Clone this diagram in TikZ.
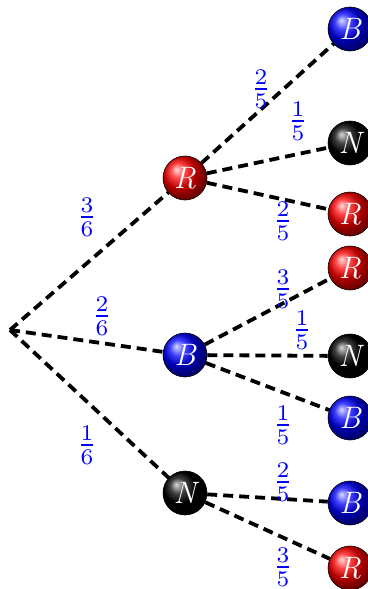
\documentclass[tikz,border=0pt]{standalone}
\usepackage{graphicx}
\usetikzlibrary{shadings}
\newcommand{\pfrac}[2]{\scalebox{3.2}{$\frac{#1}{#2}$}}
\tikzset{
  ballnode/.style={circle, shading=ball, ball color=#1, minimum size=44pt, inner sep=0pt,
    draw=black, line width=0.6pt, text=white, font=\fontsize{31}{31}\selectfont\itshape},
  edgeline/.style={line width=3.8pt, dash pattern=on 10pt off 6pt, black},
  prob/.style={text=blue, inner sep=0pt}
}
\begin{document}
\begin{tikzpicture}[x=1pt,y=-1pt]
\useasboundingbox (0,0) rectangle (367,589);
\coordinate (root) at (10,330);
\node[ballnode=red] (r1) at (185,178) {R};
\node[ballnode=blue] (b1) at (185,355) {B};
\node[ballnode=black] (n1) at (185,493) {N};
\node[ballnode=blue] (l1) at (350,29) {B};
\node[ballnode=black] (l2) at (350,143) {N};
\node[ballnode=red] (l3) at (350,214) {R};
\node[ballnode=red] (l4) at (350,268) {R};
\node[ballnode=black] (l5) at (350,356) {N};
\node[ballnode=blue] (l6) at (350,418) {B};
\node[ballnode=blue] (l7) at (350,503) {B};
\node[ballnode=red] (l8) at (350,568) {R};
\draw[edgeline] (root) -- (r1);
\draw[edgeline] (root) -- (b1);
\draw[edgeline] (root) -- (n1);
\draw[edgeline] (r1) -- (l1);
\draw[edgeline] (r1) -- (l2);
\draw[edgeline] (r1) -- (l3);
\draw[edgeline] (b1) -- (l4);
\draw[edgeline] (b1) -- (l5);
\draw[edgeline] (b1) -- (l6);
\draw[edgeline] (n1) -- (l7);
\draw[edgeline] (n1) -- (l8);
\node[prob] (p1) at (87,217) {\pfrac{3}{6}};
\node[prob] (p2) at (102,316) {\pfrac{2}{6}};
\node[prob] (p3) at (87,445) {\pfrac{1}{6}};
\node[prob] (p4) at (261,89) {\pfrac{2}{5}};
\node[prob] (p5) at (298,121) {\pfrac{1}{5}};
\node[prob] (p6) at (283,221) {\pfrac{2}{5}};
\node[prob] (p7) at (283,289) {\pfrac{3}{5}};
\node[prob] (p8) at (302,330) {\pfrac{1}{5}};
\node[prob] (p9) at (283,425) {\pfrac{1}{5}};
\node[prob] (p10) at (283,482) {\pfrac{2}{5}};
\node[prob] (p11) at (283,567) {\pfrac{3}{5}};
\end{tikzpicture}
\end{document}
